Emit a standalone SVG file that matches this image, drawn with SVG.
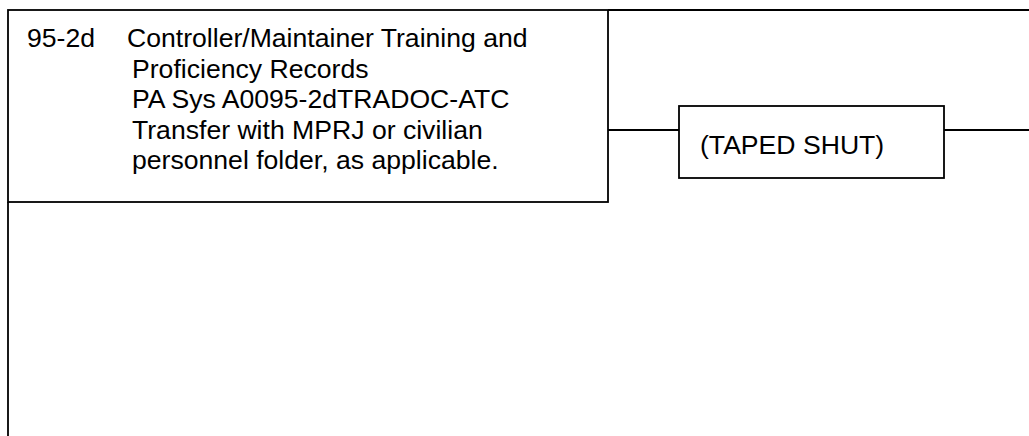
<svg xmlns="http://www.w3.org/2000/svg" width="1029" height="436" viewBox="0 0 1029 436">
<style>
.box{fill:#fff;stroke:#000;stroke-width:1.8}
.ln{fill:none;stroke:#000;stroke-width:1.8}
.t{font-family:"Liberation Sans",Arial,sans-serif;font-size:26.6px;fill:#000}
</style>
<rect width="1029" height="436" fill="#fff"/>
<g id="connectors">
<line class="ln" x1="8" y1="202" x2="8" y2="436"/>
<line class="ln" x1="608" y1="10" x2="1029" y2="10"/>
<line class="ln" x1="608" y1="130" x2="679" y2="130"/>
<line class="ln" x1="944" y1="130" x2="1029" y2="130"/>
</g>
<g id="node-record">
<rect class="box" x="8" y="10" width="600" height="192"/>
<text class="t" x="27" y="47">95-2d</text>
<text class="t" x="127" y="47">Controller/Maintainer Training and</text>
<text class="t" x="132" y="77.5">Proficiency Records</text>
<text class="t" x="132" y="108">PA Sys A0095-2dTRADOC-ATC</text>
<text class="t" x="132" y="138.5">Transfer with MPRJ or civilian</text>
<text class="t" x="132" y="169">personnel folder, as applicable.</text>
</g>
<g id="node-taped">
<rect class="box" x="679" y="106" width="265" height="72"/>
<text class="t" x="700" y="154">(TAPED SHUT)</text>
</g>
</svg>
